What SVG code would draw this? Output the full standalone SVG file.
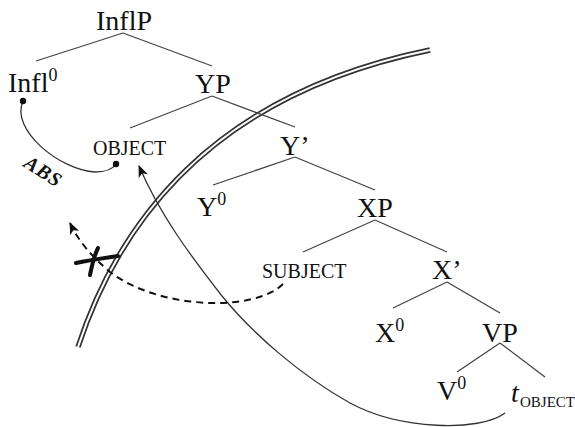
<svg xmlns="http://www.w3.org/2000/svg" width="575" height="427" viewBox="0 0 575 427">
<style>
.lbl{font-family:"Liberation Serif","Times New Roman",serif;font-size:28px;fill:#111}
.sup{font-size:18px}
.sc{font-family:"Liberation Serif","Times New Roman",serif;font-size:20px;fill:#111}
.sub{font-family:"Liberation Serif","Times New Roman",serif;font-size:15px;fill:#111}
.edge{stroke:#444;stroke-width:1.3;fill:none}
.mv{stroke:#333;stroke-width:1.3;fill:none}
</style>
<defs>
<marker id="arr" viewBox="0 0 12 10" refX="11" refY="5" markerWidth="12" markerHeight="10" markerUnits="userSpaceOnUse" orient="auto">
<path d="M0,0 L12,5 L0,10 L3,5 Z" fill="#111"/>
</marker>
</defs>
<g id="barrier">
<path d="M78,347 C118,225 210,95 430,50" stroke="#333" stroke-width="5.5" fill="none"/>
<path d="M78,347 C118,225 210,95 430,50" stroke="#fff" stroke-width="2" fill="none"/>
</g>
<g id="connectors">
<line class="edge" x1="123" y1="33" x2="36" y2="61"/>
<line class="edge" x1="123" y1="33" x2="212" y2="66"/>
<line class="edge" x1="212" y1="96" x2="130" y2="128"/>
<line class="edge" x1="212" y1="96" x2="295" y2="127"/>
<line class="edge" x1="295" y1="157" x2="213" y2="185"/>
<line class="edge" x1="295" y1="157" x2="375" y2="190"/>
<line class="edge" x1="375" y1="220" x2="303" y2="252"/>
<line class="edge" x1="375" y1="220" x2="447" y2="252"/>
<line class="edge" x1="447" y1="282" x2="393" y2="308"/>
<line class="edge" x1="447" y1="282" x2="500" y2="313"/>
<line class="edge" x1="500" y1="343" x2="457" y2="372"/>
<line class="edge" x1="500" y1="343" x2="545" y2="377"/>
<path class="mv" d="M505,413 C480,432 400,430 350,403 C300,375 252,333 222,296 C190,255 160,215 139,166" marker-end="url(#arr)"/>
<path class="mv" d="M23,101 C10,130 60,170 95,172 C105,172 112,170 116,164"/>
<circle cx="23" cy="101" r="3.2" fill="#111"/>
<circle cx="116" cy="164" r="3.2" fill="#111"/>
<path d="M283,284 C255,312 160,310 110,272 C90,255 78,240 70,223" stroke="#111" stroke-width="2" stroke-dasharray="7,5" fill="none" marker-end="url(#arr)"/>
<g id="block" stroke="#111" stroke-width="4" stroke-linecap="round" fill="none">
<path d="M76,263 C90,260 105,258 118,256"/>
<path d="M98,248 C94,256 92,265 90,275"/>
</g>
</g>
<g id="abs"><text x="43" y="178" transform="rotate(33 43 172)" text-anchor="middle" font-family="Liberation Serif, serif" font-size="20" font-weight="bold" font-style="italic" letter-spacing="1" fill="#111">ABS</text></g>
<g id="InflP"><text class="lbl" x="124" y="30" text-anchor="middle">InflP</text></g>
<g id="Infl0"><text class="lbl" x="8" y="92">Infl<tspan class="sup" dy="-11">0</tspan></text></g>
<g id="YP"><text class="lbl" x="213" y="93" text-anchor="middle">YP</text></g>
<g id="OBJECT"><text class="sc" x="93" y="155">OBJECT</text></g>
<g id="Ybar"><text class="lbl" x="280" y="155">Y’</text></g>
<g id="Y0"><text class="lbl" x="197" y="216">Y<tspan class="sup" dy="-11">0</tspan></text></g>
<g id="XP"><text class="lbl" x="357" y="217">XP</text></g>
<g id="SUBJECT"><text class="sc" x="262" y="278">SUBJECT</text></g>
<g id="Xbar"><text class="lbl" x="432" y="279">X’</text></g>
<g id="X0"><text class="lbl" x="375" y="342">X<tspan class="sup" dy="-11">0</tspan></text></g>
<g id="VP"><text class="lbl" x="482" y="342">VP</text></g>
<g id="V0"><text class="lbl" x="437" y="400">V<tspan class="sup" dy="-11">0</tspan></text></g>
<g id="tOBJECT"><text class="lbl" x="511" y="402" font-style="italic">t</text><text class="sub" x="520" y="407">OBJECT</text></g>
</svg>
